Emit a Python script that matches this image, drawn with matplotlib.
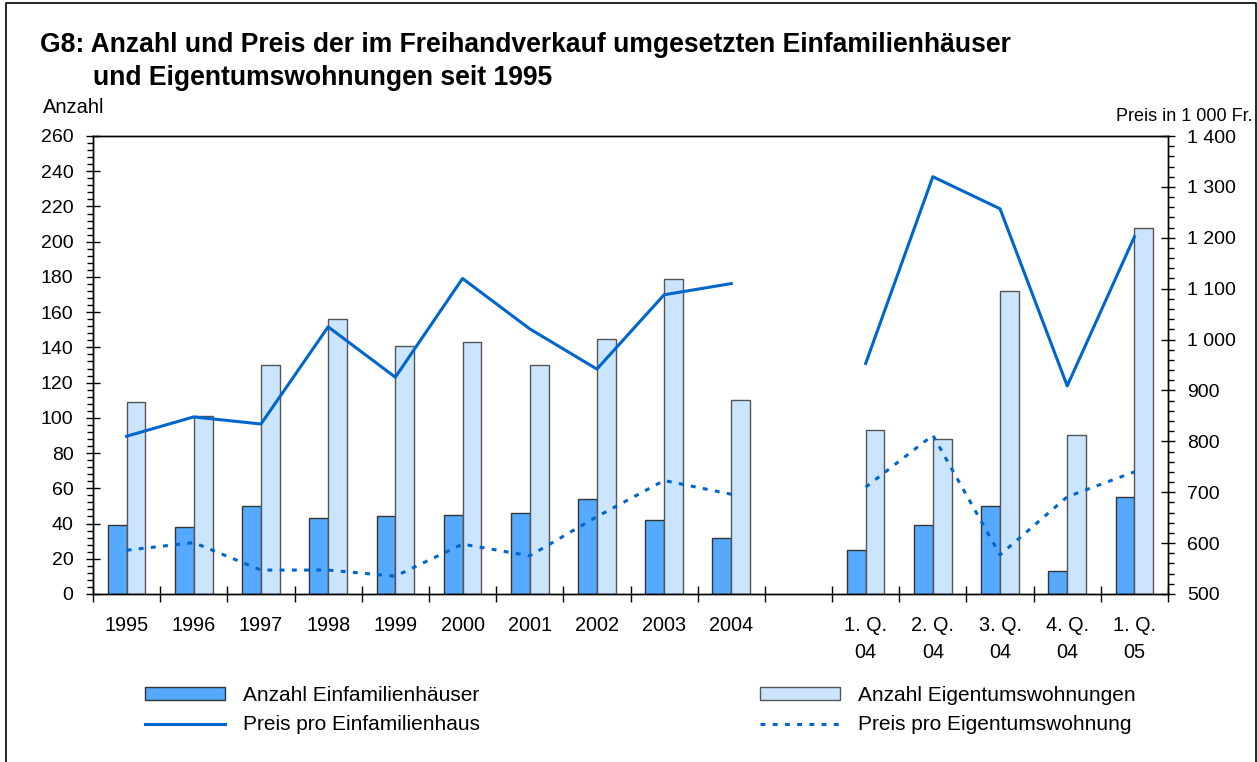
import matplotlib.pyplot as plt
import matplotlib.patches as mpatches
import matplotlib.lines as mlines
from matplotlib.ticker import FuncFormatter, MultipleLocator, FixedLocator

plt.rcParams['font.family'] = ['Liberation Sans', 'DejaVu Sans']

# categories: 10 years, an empty slot, 5 quarters
years = ['1995', '1996', '1997', '1998', '1999', '2000', '2001', '2002', '2003', '2004']
quarters = ['1. Q.\n04', '2. Q.\n04', '3. Q.\n04', '4. Q.\n04', '1. Q.\n05']

# counts (left axis)
efh_count_years = [39, 38, 50, 43, 44, 45, 46, 54, 42, 32]
etw_count_years = [109, 101, 130, 156, 141, 143, 130, 145, 179, 110]
efh_count_quarters = [25, 39, 50, 13, 55]
etw_count_quarters = [93, 88, 172, 90, 208]

# prices in 1000 Fr. (right axis)
efh_price_years = [810, 848, 834, 1025, 926, 1120, 1021, 942, 1088, 1110]
etw_price_years = [586, 601, 547, 547, 535, 598, 575, 652, 723, 696]
efh_price_quarters = [953, 1320, 1257, 909, 1202]
etw_price_quarters = [710, 812, 577, 691, 740]

dark = '#55AAFF'
light = '#CCE5FF'
line_col = '#0066CC'

x_years = list(range(len(years)))
x_quarters = [len(years) + 1 + i for i in range(len(quarters))]
n_slots = len(years) + 1 + len(quarters)

fig = plt.figure(figsize=(12.57, 7.62), dpi=100)
ax = fig.add_axes([93 / 1257, 1 - 594 / 762, (1168 - 93) / 1257, (594 - 136) / 762])
ax2 = ax.twinx()

bw = 0.28
for xs, e, w in [(x_years, efh_count_years, etw_count_years),
                 (x_quarters, efh_count_quarters, etw_count_quarters)]:
    ax.bar([x - bw / 2 for x in xs], e, width=bw, color=dark, edgecolor='#333333', linewidth=1)
    ax.bar([x + bw / 2 for x in xs], w, width=bw, color=light, edgecolor='#555555', linewidth=1)

dot = (0, (1.6, 2.4))
ax2.plot(x_years, efh_price_years, color=line_col, lw=2.2)
ax2.plot(x_quarters, efh_price_quarters, color=line_col, lw=2.2)
ax2.plot(x_years, etw_price_years, color=line_col, lw=2.2, ls=dot)
ax2.plot(x_quarters, etw_price_quarters, color=line_col, lw=2.2, ls=dot)

# axes ranges and ticks
ax.set_xlim(-0.5, n_slots - 0.5)
ax.set_ylim(0, 260)
ax2.set_ylim(500, 1400)

ax.xaxis.set_major_locator(FixedLocator([i - 0.5 for i in range(n_slots + 1)]))
ax.xaxis.set_major_formatter(FuncFormatter(lambda v, p: ''))
ax.xaxis.set_minor_locator(FixedLocator(x_years + x_quarters))
ax.set_xticklabels(years + quarters, minor=True, linespacing=1.55)
ax.tick_params(axis='x', which='major', direction='inout', length=12, width=1)
ax.tick_params(axis='x', which='minor', length=0, pad=16, labelsize=14.3)

ax.yaxis.set_major_locator(MultipleLocator(20))
ax.yaxis.set_minor_locator(MultipleLocator(4))
ax.tick_params(axis='y', which='major', direction='inout', length=10, width=1, labelsize=14, pad=9)
ax.tick_params(axis='y', which='minor', direction='out', length=4, width=1)

fmt = FuncFormatter(lambda v, p: f'{int(v):,}'.replace(',', ' '))
ax2.yaxis.set_major_locator(MultipleLocator(100))
ax2.yaxis.set_minor_locator(MultipleLocator(20))
ax2.yaxis.set_major_formatter(fmt)
ax2.tick_params(axis='y', which='major', direction='inout', length=10, width=1, labelsize=14, pad=9)
ax2.tick_params(axis='y', which='minor', direction='out', length=4, width=1)

for a in (ax, ax2):
    for s in a.spines.values():
        s.set_linewidth(1)
        s.set_color('black')

# titles and axis captions
fig.text(40 / 1257, 1 - 52 / 762, 'G8: Anzahl und Preis der im Freihandverkauf umgesetzten Einfamilienhäuser',
         fontsize=19.1, fontweight='bold', va='baseline')
fig.text(93 / 1257, 1 - 85 / 762, 'und Eigentumswohnungen seit 1995',
         fontsize=19.1, fontweight='bold', va='baseline')
fig.text(43 / 1257, 1 - 113 / 762, 'Anzahl', fontsize=14.5, va='baseline')
fig.text(1252 / 1257, 1 - 121 / 762, 'Preis in 1 000 Fr.', fontsize=13, va='baseline', ha='right')

# legend
h_efh = mpatches.Patch(facecolor=dark, edgecolor='#333333', label='Anzahl Einfamilienhäuser')
h_etw = mpatches.Patch(facecolor=light, edgecolor='#555555', label='Anzahl Eigentumswohnungen')
h_pefh = mlines.Line2D([], [], color=line_col, lw=2.2, label='Preis pro Einfamilienhaus')
h_petw = mlines.Line2D([], [], color=line_col, lw=2.2, ls=dot, label='Preis pro Eigentumswohnung')
for handles, x0 in [([h_efh, h_pefh], 145), ([h_etw, h_petw], 760)]:
    fig.legend(handles=handles, loc='upper left', bbox_to_anchor=(x0 / 1257, 1 - 686 / 762),
               frameon=False, fontsize=15, handlelength=3.85, handleheight=0.55,
               handletextpad=0.87, labelspacing=0.5, borderpad=0, borderaxespad=0)

# outer frame (left, top, right)
fig.add_artist(mlines.Line2D([6 / 1257, 6 / 1257, 1255.5 / 1257, 1255.5 / 1257],
                             [0, 1 - 3 / 762, 1 - 3 / 762, 0], color='black', lw=1.2,
                             transform=fig.transFigure))

fig.savefig('out.png', dpi=100, facecolor='white')
